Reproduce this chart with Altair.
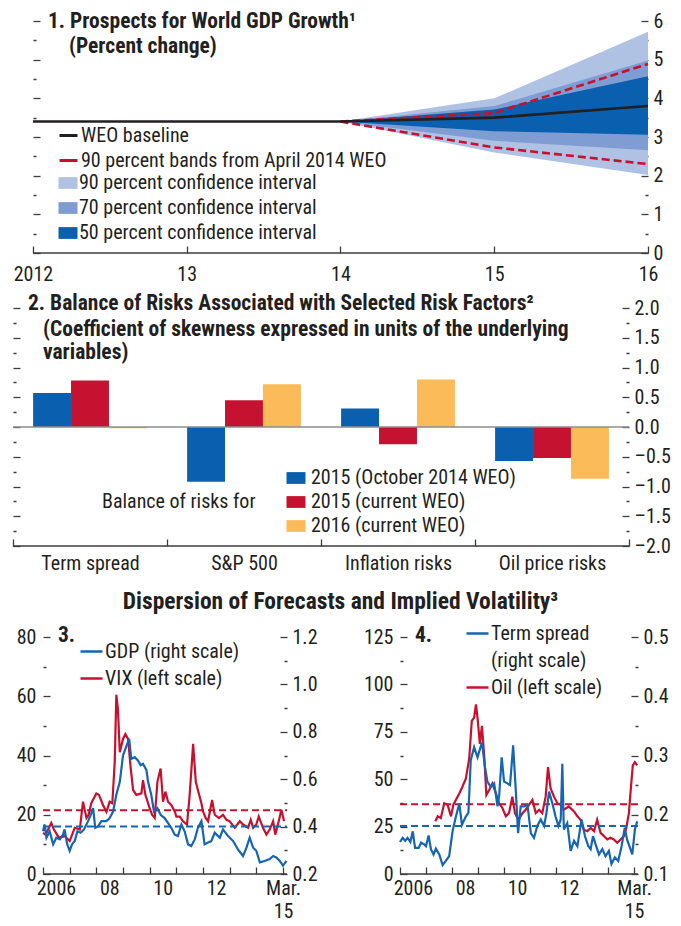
import altair as alt
import pandas as pd

FONT = "Roboto Condensed, DejaVu Sans Condensed, sans-serif"
TXT = "#231f20"
AXC = "#3c3c3c"
DARK = "#0a5fae"
MID = "#7f9dd3"
LIGHT = "#b0c2e4"
RED = "#c8102e"
BARRED = "#c41230"
YEL = "#fcbb59"
BLACK = "#231f20"
LBLUE = "#1565b4"
RECT = "M-1,-0.62H1V0.62H-1Z"
LS = 20
TS = 21.5

# ---------------- Panel 1 data ----------------
p1_years = [2012, 2013, 2014, 2015, 2016]
p1_baseline = [3.4, 3.4, 3.4, 3.5, 3.8]
fan_years = [2014, 2015, 2016]
ci90_lo = [3.4, 2.60, 2.02]
ci90_hi = [3.4, 4.00, 5.72]
ci70_lo = [3.4, 2.90, 2.66]
ci70_hi = [3.4, 3.80, 4.98]
ci50_lo = [3.4, 3.15, 3.06]
ci50_hi = [3.4, 3.71, 4.57]
apr14_lo = [3.4, 2.73, 2.30]
apr14_hi = [3.4, 3.62, 4.89]
band_names = ["90 percent confidence interval", "70 percent confidence interval",
              "50 percent confidence interval"]
line_names = ["WEO baseline", "90 percent bands from April 2014 WEO"]
p1_x_ticks = [2012, 2013, 2014, 2015, 2016]
p1_y_ticks = [0, 0.5, 1, 1.5, 2, 2.5, 3, 3.5, 4, 4.5, 5, 5.5, 6]

# ---------------- Panel 2 data ----------------
p2_cats = ["Term spread", "S&P 500", "Inflation risks", "Oil price risks"]
p2_series = ["2015 (October 2014 WEO)", "2015 (current WEO)", "2016 (current WEO)"]
p2_oct14 = [0.57, -0.92, 0.31, -0.57]
p2_cur15 = [0.78, 0.45, -0.29, -0.52]
p2_cur16 = [-0.02, 0.72, 0.80, -0.87]
p2_y_ticks = [-2, -1.75, -1.5, -1.25, -1, -0.75, -0.5, -0.25, 0,
              0.25, 0.5, 0.75, 1, 1.25, 1.5, 1.75, 2]

# ---------------- Panel 3 data ----------------
p3_vix_t = [2006.00, 2006.10, 2006.31, 2006.41, 2006.60, 2006.81,
            2007.00, 2007.19, 2007.38, 2007.50, 2007.63, 2007.71, 2007.81,
            2008.00, 2008.10, 2008.25, 2008.38, 2008.50, 2008.60, 2008.69, 2008.75, 2008.81, 2008.88,
            2009.00, 2009.09, 2009.19, 2009.29, 2009.38, 2009.50, 2009.69, 2009.75, 2009.84,
            2010.00, 2010.09, 2010.19, 2010.29, 2010.41, 2010.50, 2010.59, 2010.69, 2010.81, 2010.94,
            2011.00, 2011.13, 2011.25, 2011.40, 2011.50, 2011.63, 2011.73, 2011.81, 2011.94,
            2012.00, 2012.10, 2012.19, 2012.34, 2012.44, 2012.60, 2012.75, 2012.88,
            2013.00, 2013.19, 2013.38, 2013.50, 2013.69, 2013.79, 2013.88,
            2014.00, 2014.09, 2014.25, 2014.38, 2014.50, 2014.63, 2014.71, 2014.84, 2014.94,
            2015.04]
p3_vix_v = [13.9, 13.3, 17.2, 15.0, 12.2, 12.8,
            11.1, 15.6, 15.0, 24.4, 18.9, 20.0, 23.9,
            27.2, 26.7, 23.3, 21.0, 24.4, 23.9, 37.8, 60.5, 55.6, 41.1,
            45.6, 47.2, 45.6, 35.6, 28.3, 26.7, 27.2, 31.7, 26.7,
            22.2, 20.0, 18.9, 31.1, 35.6, 24.4, 27.8, 24.4, 23.3, 21.1,
            19.4, 19.4, 17.8, 16.7, 26.7, 43.9, 31.1, 28.3, 23.9,
            21.1, 18.9, 17.8, 25.0, 20.0, 18.9, 20.0, 18.3,
            17.8, 15.6, 17.8, 16.7, 15.6, 18.3, 15.6,
            16.7, 19.4, 15.6, 13.3, 15.0, 17.8, 13.3, 17.8, 21.7,
            17.8]
p3_gdp_t = [2006.00, 2006.06, 2006.13, 2006.25, 2006.38, 2006.50, 2006.63, 2006.75, 2006.81, 2006.91,
            2007.00, 2007.09, 2007.19, 2007.29, 2007.41, 2007.54, 2007.69, 2007.79, 2007.88, 2007.96,
            2008.06, 2008.19, 2008.38, 2008.50, 2008.63, 2008.75, 2008.88,
            2009.00, 2009.13, 2009.23, 2009.31, 2009.44, 2009.56, 2009.66, 2009.75, 2009.88, 2009.94,
            2010.06, 2010.16, 2010.29, 2010.41, 2010.56, 2010.69, 2010.81, 2010.94,
            2011.06, 2011.19, 2011.31, 2011.44, 2011.56, 2011.69, 2011.81, 2011.94,
            2012.06, 2012.19, 2012.31, 2012.44, 2012.63, 2012.75, 2012.94,
            2013.13, 2013.31, 2013.50, 2013.63, 2013.75, 2013.88,
            2014.00, 2014.13, 2014.31, 2014.50, 2014.63, 2014.75, 2014.88,
            2015.00, 2015.13]
p3_gdp_v = [0.380, 0.409, 0.353, 0.380, 0.325, 0.353, 0.346, 0.366, 0.388, 0.325,
            0.298, 0.325, 0.339, 0.380, 0.374, 0.388, 0.423, 0.450, 0.478, 0.395,
            0.401, 0.423, 0.423, 0.436, 0.464, 0.534, 0.589,
            0.700, 0.741, 0.770, 0.686, 0.693, 0.679, 0.659, 0.665, 0.638, 0.589,
            0.534, 0.464, 0.478, 0.450, 0.436, 0.415, 0.395, 0.366,
            0.360, 0.409, 0.380, 0.325, 0.318, 0.346, 0.395, 0.423,
            0.325, 0.333, 0.339, 0.374, 0.353, 0.388, 0.360,
            0.339, 0.304, 0.276, 0.311, 0.353, 0.311,
            0.298, 0.249, 0.255, 0.263, 0.276, 0.270, 0.255,
            0.235, 0.255]
p3_vix_avg = 21.5
p3_gdp_avg = 0.40
p3_names = ["GDP (right scale)", "VIX (left scale)"]

# ---------------- Panel 4 data ----------------
p4_ts_t = [2006.00, 2006.10, 2006.20, 2006.29, 2006.40, 2006.49, 2006.58, 2006.72, 2006.81, 2006.93,
           2007.00, 2007.10, 2007.19, 2007.29, 2007.38, 2007.51, 2007.64, 2007.76, 2007.89,
           2008.02, 2008.15, 2008.28, 2008.38, 2008.53, 2008.63, 2008.72, 2008.85, 2008.98,
           2009.15, 2009.27, 2009.36, 2009.49, 2009.62, 2009.75, 2009.81, 2009.91,
           2010.00, 2010.13, 2010.23, 2010.35, 2010.45, 2010.54, 2010.64, 2010.77, 2010.90,
           2011.03, 2011.15, 2011.28, 2011.41, 2011.54, 2011.63, 2011.73, 2011.86, 2011.98,
           2012.09, 2012.18, 2012.24, 2012.30, 2012.43, 2012.56, 2012.69, 2012.82, 2012.98,
           2013.11, 2013.24, 2013.33, 2013.42, 2013.52, 2013.65, 2013.78, 2013.90,
           2014.03, 2014.13, 2014.26, 2014.39, 2014.52, 2014.64, 2014.73, 2014.82, 2014.93,
           2015.03, 2015.12]
p4_ts_v = [0.154, 0.161, 0.156, 0.161, 0.154, 0.172, 0.144, 0.144, 0.153, 0.150,
           0.147, 0.165, 0.142, 0.133, 0.143, 0.133, 0.115, 0.122, 0.130,
           0.172, 0.197, 0.219, 0.183, 0.197, 0.203, 0.292, 0.314, 0.297,
           0.322, 0.280, 0.256, 0.247, 0.253, 0.214, 0.231, 0.297,
           0.256, 0.253, 0.250, 0.317, 0.242, 0.169, 0.214, 0.214, 0.217,
           0.169, 0.161, 0.181, 0.192, 0.181, 0.203, 0.239, 0.219, 0.197,
           0.181, 0.192, 0.286, 0.175, 0.186, 0.139, 0.156, 0.147, 0.192,
           0.164, 0.147, 0.142, 0.164, 0.150, 0.133, 0.142, 0.130,
           0.139, 0.117, 0.128, 0.122, 0.147, 0.178, 0.158, 0.147, 0.133,
           0.175, 0.189]
p4_oil_t = [2007.36, 2007.45, 2007.57, 2007.70, 2007.83, 2007.96,
            2008.05, 2008.15, 2008.28, 2008.40, 2008.53, 2008.66, 2008.76, 2008.85, 2008.92, 2008.98,
            2009.07, 2009.15, 2009.24, 2009.32, 2009.43, 2009.55, 2009.69, 2009.81, 2009.94,
            2010.07, 2010.19, 2010.32, 2010.42, 2010.55, 2010.71, 2010.83, 2010.96,
            2011.09, 2011.22, 2011.35, 2011.47, 2011.60, 2011.69, 2011.79, 2011.92,
            2012.05, 2012.18, 2012.30, 2012.49, 2012.69, 2012.82, 2012.94,
            2013.07, 2013.20, 2013.33, 2013.46, 2013.58, 2013.71, 2013.84, 2013.97,
            2014.09, 2014.22, 2014.35, 2014.48, 2014.61, 2014.70, 2014.80, 2014.87, 2014.95,
            2015.03, 2015.12]
p4_oil_v = [27.8, 30.4, 29.5, 37.3, 36.5, 30.4,
            36.5, 39.1, 42.5, 46.0, 50.3, 60.8, 80.7, 82.5, 89.4, 82.5,
            68.6, 78.1, 61.6, 41.7, 44.3, 47.7, 42.5, 37.3, 34.7,
            30.4, 32.1, 40.8, 32.1, 28.6, 32.1, 33.9, 36.5,
            39.1, 32.1, 33.9, 32.1, 40.8, 56.4, 45.1, 40.8,
            37.3, 36.5, 33.9, 35.6, 33.0, 30.4, 28.6,
            23.4, 22.6, 24.3, 22.6, 28.6, 21.7, 20.0, 18.2,
            19.1, 18.2, 16.5, 18.2, 20.0, 24.3, 32.1, 44.3, 57.3,
            59.0, 57.3]
p4_oil_avg = 36.8
p4_ts_avg = 0.181
p4_names = ["Term spread", "(right scale)", "Oil (left scale)"]

time_start, time_end = 2006, 2015.15
time_ticks = [2006, 2007, 2008, 2009, 2010, 2011, 2012, 2013, 2014, 2015]
p3_left_ticks = [0, 10, 20, 30, 40, 50, 60, 70, 80]
p3_right_ticks = [0.2, 0.3, 0.4, 0.5, 0.6, 0.7, 0.8, 0.9, 1.0, 1.1, 1.2]
p4_left_ticks = [0, 12.5, 25, 37.5, 50, 62.5, 75, 87.5, 100, 112.5, 125]
p4_right_ticks = [0.1, 0.15, 0.2, 0.25, 0.3, 0.35, 0.4, 0.45, 0.5]

p1_title = ["1. Prospects for World GDP Growth\u00b9", "(Percent change)"]
p2_title = ["2. Balance of Risks Associated with Selected Risk Factors\u00b2",
            "(Coefficient of skewness expressed in units of the underlying", "variables)"]
main_title = "Dispersion of Forecasts and Implied Volatility\u00b3"


# ---------------- helpers ----------------
def dash_cond(test):
    return {"condition": {"test": test, "value": [0, 4, 3, 30]}, "value": [30, 0]}


def yaxis(orient, values, minor_test, label_expr=None, offset=-7, **kw):
    args = dict(orient=orient, values=values, domain=False, grid=False, offset=offset,
                tickSize=7, tickWidth=1.3, tickColor=AXC, tickDash=dash_cond(minor_test),
                labelFontSize=LS, labelColor=TXT, labelFlush=False, labelOverlap=False,
                labelPadding=5, minExtent=0)
    if label_expr is None:
        args["labels"] = False
    else:
        args["labelExpr"] = label_expr
    args.update(kw)
    return alt.Axis(**args)


def time_axis():
    return alt.Axis(
        orient="bottom", values=time_ticks, domain=False, grid=False, offset=-7,
        tickSize=7, tickWidth=1.3, tickColor=AXC,
        labelExpr=("datum.value == 2006 ? '2006' : datum.value == 2008 ? '08' : "
                   "datum.value == 2010 ? '10' : datum.value == 2012 ? '12' : "
                   "datum.value == 2015 ? ['Mar.', '15'] : ''"),
        labelOffset={"condition": {"test": "datum.value < 2015", "value": 13}, "value": 0},
        labelPadding=4, labelFontSize=LS, labelColor=TXT, labelFlush=False,
        labelOverlap=False, labelLineHeight=23)


def line_legend(x, y):
    return alt.Legend(orient="none", legendX=x, legendY=y, title=None, symbolType="stroke",
                      symbolSize=484, symbolStrokeWidth=2.5, labelFontSize=LS, labelColor=TXT,
                      labelOffset=1, rowPadding=4, padding=0, labelLimit=600)


def note(txt, x, y, size=TS, weight="bold"):
    return alt.Chart(pd.DataFrame({"t": [txt]})).mark_text(
        align="left", baseline="middle", fontSize=size, fontWeight=weight, color=TXT, font=FONT
    ).encode(text="t:N", x=alt.value(x), y=alt.value(y))


# ================= Panel 1 =================
# plot area starts 20px left of 2012 (panels share a common left edge)
y1s = alt.Scale(domain=[0, 6], nice=False, zero=False)
x1s = alt.Scale(domain=[2011.87, 2016], nice=False, zero=False)
fill_scale = alt.Scale(domain=band_names, range=[LIGHT, MID, DARK])
fill_legend = alt.Legend(orient="none", legendX=45, legendY=152, title=None, symbolType=RECT,
                         symbolSize=361, symbolStrokeWidth=0, labelFontSize=LS, labelColor=TXT,
                         labelOffset=1, rowPadding=5, padding=0, labelLimit=600)
stroke_scale = alt.Scale(domain=line_names, range=[BLACK, RED])
stroke_legend = alt.Legend(orient="none", legendX=45, legendY=104, title=None, symbolType="stroke",
                           symbolSize=324, symbolStrokeWidth=3, labelFontSize=LS, labelColor=TXT,
                           labelOffset=2, rowPadding=4, padding=0, labelLimit=600)

ax1_left = yaxis("left", p1_y_ticks, "datum.value % 1 != 0", offset=-27)
ax1_right = yaxis("right", p1_y_ticks, "datum.value % 1 != 0",
                  label_expr="datum.value % 1 == 0 ? format(datum.value, 'd') : ''")
ax1_x = alt.Axis(orient="bottom", values=p1_x_ticks, domain=False, grid=False, offset=-7,
                 tickSize=7, tickWidth=1.3, tickColor=AXC,
                 labelExpr="datum.value == 2012 ? '2012' : substring(toString(datum.value), 2, 4)",
                 labelPadding=11, labelFontSize=LS, labelColor=TXT, labelFlush=False,
                 labelOverlap=False)


def x1(field):
    return alt.X(field, type="quantitative", scale=x1s, axis=ax1_x, title=None)


areas = []
for i, (lo, hi, nm) in enumerate([(ci90_lo, ci90_hi, band_names[0]),
                                  (ci70_lo, ci70_hi, band_names[1]),
                                  (ci50_lo, ci50_hi, band_names[2])]):
    d = pd.DataFrame({"year": fan_years, "lo": lo, "hi": hi, "band": nm})
    yenc = alt.Y("lo:Q", scale=y1s, axis=ax1_left if i == 0 else None, title=None)
    areas.append(alt.Chart(d).mark_area(opacity=1).encode(
        x=x1("year"), y=yenc, y2="hi:Q",
        fill=alt.Fill("band:N", scale=fill_scale, legend=fill_legend)))

red_df = pd.DataFrame({"year": fan_years + fan_years, "value": apr14_lo + apr14_hi,
                       "bound": ["lo"] * 3 + ["hi"] * 3, "series": line_names[1]})
red_lines = alt.Chart(red_df).mark_line(strokeDash=[8, 4], strokeWidth=2.6).encode(
    x=x1("year"),
    y=alt.Y("value:Q", scale=y1s, axis=None),
    detail="bound:N",
    stroke=alt.Stroke("series:N", scale=stroke_scale, legend=stroke_legend))

base_df = pd.DataFrame({"year": p1_years, "value": p1_baseline, "series": line_names[0]})
baseline = alt.Chart(base_df).mark_line(strokeWidth=2.6).encode(
    x=x1("year"),
    y=alt.Y("value:Q", scale=y1s, axis=ax1_right, title=None),
    stroke=alt.Stroke("series:N", scale=stroke_scale, legend=stroke_legend))

rule1 = alt.Chart(pd.DataFrame({"a": [p1_years[0]], "b": [p1_years[-1]], "v": [0]})).mark_rule(
    color=AXC, strokeWidth=1.5).encode(
    x=x1("a"), x2="b:Q", y=alt.Y("v:Q", scale=y1s, axis=None))

p1 = alt.layer(*areas, red_lines, baseline, rule1,
               note(p1_title[0], 35, 1), note(p1_title[1], 56, 26)
               ).resolve_axis(y="independent").properties(width=635, height=232)

# ================= Panel 2 =================
df2 = pd.DataFrame({
    "cat": p2_cats * 3,
    "series": [p2_series[0]] * 4 + [p2_series[1]] * 4 + [p2_series[2]] * 4,
    "value": p2_oct14 + p2_cur15 + p2_cur16})
y2s = alt.Scale(domain=[-2, 2], nice=False, zero=False)
ax2_x = alt.Axis(orient="bottom", domain=False, grid=False, offset=-7, tickSize=7,
                 tickWidth=1.3, tickColor=AXC, tickBand="extent", labelPadding=7,
                 labelFontSize=LS, labelColor=TXT, labelAngle=0, labelOverlap=False,
                 labelLimit=300)
ax2_left = yaxis("left", p2_y_ticks, "round(abs(datum.value) * 4) % 2 == 1")
ax2_right = yaxis("right", p2_y_ticks, "round(abs(datum.value) * 4) % 2 == 1",
                  label_expr=("round(abs(datum.value) * 4) % 2 == 1 ? '' : "
                              "replace(replace(format(datum.value, '.1f'), '\u2212', '\u2013'), '-', '\u2013')"))
leg2 = alt.Legend(orient="none", legendX=89, legendY=160, title="Balance of risks for",
                  titleOrient="left", titleAnchor="middle", titleBaseline="middle",
                  titleFontSize=LS, titleFontWeight="normal", titleColor=TXT, titlePadding=30,
                  titleLimit=400, symbolType=RECT, symbolSize=361, symbolStrokeWidth=0,
                  labelFontSize=LS, labelColor=TXT, labelOffset=5, rowPadding=4, padding=0,
                  labelLimit=600)
bars = alt.Chart(df2).mark_bar().encode(
    x=alt.X("cat:N", sort=p2_cats, scale=alt.Scale(paddingInner=0, paddingOuter=0),
            axis=ax2_x, title=None),
    xOffset=alt.XOffset("series:N", sort=p2_series,
                        scale=alt.Scale(domain=p2_series, paddingInner=0, paddingOuter=0.53)),
    y=alt.Y("value:Q", scale=y2s, axis=ax2_left, title=None),
    color=alt.Color("series:N", scale=alt.Scale(domain=p2_series, range=[DARK, BARRED, YEL]),
                    legend=leg2))
zero2 = alt.Chart(pd.DataFrame({"v": [0]})).mark_rule(color="#8c8c8c", strokeWidth=1.5).encode(
    y=alt.Y("v:Q", scale=y2s, axis=ax2_right, title=None))
bottom2 = alt.Chart(pd.DataFrame({"v": [-2]})).mark_rule(color=AXC, strokeWidth=1.5).encode(
    y=alt.Y("v:Q", scale=y2s, axis=None))

p2 = alt.layer(bars, zero2, bottom2,
               note(p2_title[0], 15, -4), note(p2_title[1], 30, 22), note(p2_title[2], 30, 45)
               ).resolve_axis(y="independent").properties(width=616, height=238)


# ================= Panels 3 & 4 =================
def dual_panel(left_df, right_df, ext, w, h, yl, yr, l_ticks, r_ticks, l_minor, r_minor,
               l_expr, r_expr, l_avg, r_avg, col, leg, label, label_x):
    px_per_year = w / (time_end - time_start)
    xs = alt.Scale(domain=[time_start - ext / px_per_year, time_end], nice=False, zero=False)
    xa = time_axis()
    la = yaxis("left", l_ticks, l_minor, label_expr=l_expr, labelPadding=7, offset=-(7 + ext))
    ra = yaxis("right", r_ticks, r_minor, label_expr=r_expr)

    def xl(f):
        return alt.X(f, type="quantitative", scale=xs, axis=xa, title=None)

    def span(v):
        return pd.DataFrame({"a": [time_start], "b": [time_end], "v": [v]})

    left = alt.layer(
        alt.Chart(left_df).mark_line(strokeWidth=2.2).encode(
            x=xl("t"), y=alt.Y("v:Q", scale=yl, axis=la, title=None),
            color=alt.Color("s:N", scale=col, legend=leg)),
        alt.Chart(span(l_avg)).mark_rule(color=RED, strokeWidth=2, strokeDash=[7, 4]).encode(
            x=xl("a"), x2="b:Q", y=alt.Y("v:Q", scale=yl, axis=la, title=None)),
        alt.Chart(span(0)).mark_rule(color=AXC, strokeWidth=1.5).encode(
            x=xl("a"), x2="b:Q", y=alt.Y("v:Q", scale=yl, axis=la, title=None)),
        note(label, label_x, -1),
    )
    right = alt.layer(
        alt.Chart(right_df).mark_line(strokeWidth=2.2).encode(
            x=xl("t"), y=alt.Y("v:Q", scale=yr, axis=ra, title=None),
            color=alt.Color("s:N", scale=col, legend=leg)),
        alt.Chart(span(r_avg)).mark_rule(color=LBLUE, strokeWidth=2, strokeDash=[7, 4]).encode(
            x=xl("a"), x2="b:Q", y=alt.Y("v:Q", scale=yr, axis=ra, title=None)),
    )
    return alt.layer(left, right).resolve_scale(y="independent").properties(
        width=w + ext, height=h)


vix_df = pd.DataFrame({"t": p3_vix_t, "v": p3_vix_v, "s": p3_names[1]})
gdp_df = pd.DataFrame({"t": p3_gdp_t, "v": p3_gdp_v, "s": p3_names[0]})
p3 = dual_panel(
    vix_df, gdp_df, 30, 244, 237,
    alt.Scale(domain=[0, 80], nice=False, zero=False),
    alt.Scale(domain=[0.2, 1.2], nice=False, zero=False),
    p3_left_ticks, p3_right_ticks,
    "datum.value % 20 != 0", "round(datum.value * 10) % 2 == 1",
    "datum.value % 20 != 0 ? '' : format(datum.value, 'd')",
    "round(datum.value * 10) % 2 == 1 ? '' : format(datum.value, '.1f')",
    p3_vix_avg, p3_gdp_avg,
    alt.Scale(domain=p3_names, range=[LBLUE, RED]), line_legend(66, 2), "3.", 45)

oil_df = pd.DataFrame({"t": p4_oil_t, "v": p4_oil_v, "s": p4_names[2]})
ts_df = pd.DataFrame({"t": p4_ts_t, "v": p4_ts_v, "s": p4_names[0]})
p4 = dual_panel(
    oil_df, ts_df, 0, 238, 237,
    alt.Scale(domain=[0, 125], nice=False, zero=False),
    alt.Scale(domain=[0.1, 0.5], nice=False, zero=False),
    p4_left_ticks, p4_right_ticks,
    "datum.value % 25 != 0", "round(datum.value * 20) % 2 == 1",
    "datum.value % 25 != 0 ? '' : format(datum.value, 'd')",
    "round(datum.value * 20) % 2 == 1 ? '' : format(datum.value, '.1f')",
    p4_oil_avg, p4_ts_avg,
    alt.Scale(domain=p4_names, range=[LBLUE, "#ffffff00", RED]), line_legend(65, -16), "4.", 15)

row3 = alt.hconcat(p3, p4, spacing=45).resolve_scale(color="independent").properties(
    title=alt.TitleParams(main_title, anchor="middle", fontSize=23.5, fontWeight="bold",
                          color=TXT, offset=8))

top = alt.concat(p1, p2, columns=1, spacing=9).resolve_scale(
    color="independent", fill="independent", stroke="independent")

chart = alt.concat(top, row3, columns=1, spacing=16).resolve_scale(
    color="independent", fill="independent", stroke="independent").properties(
    padding={"left": 4, "top": 3, "right": 0, "bottom": 0}, background="white"
).configure(font=FONT).configure_view(stroke=None).configure_axis(
    labelFont=FONT, titleFont=FONT).configure_legend(labelFont=FONT, titleFont=FONT
).configure_title(font=FONT)

chart.save("out.html", embed_options={"renderer": "svg", "actions": False})
